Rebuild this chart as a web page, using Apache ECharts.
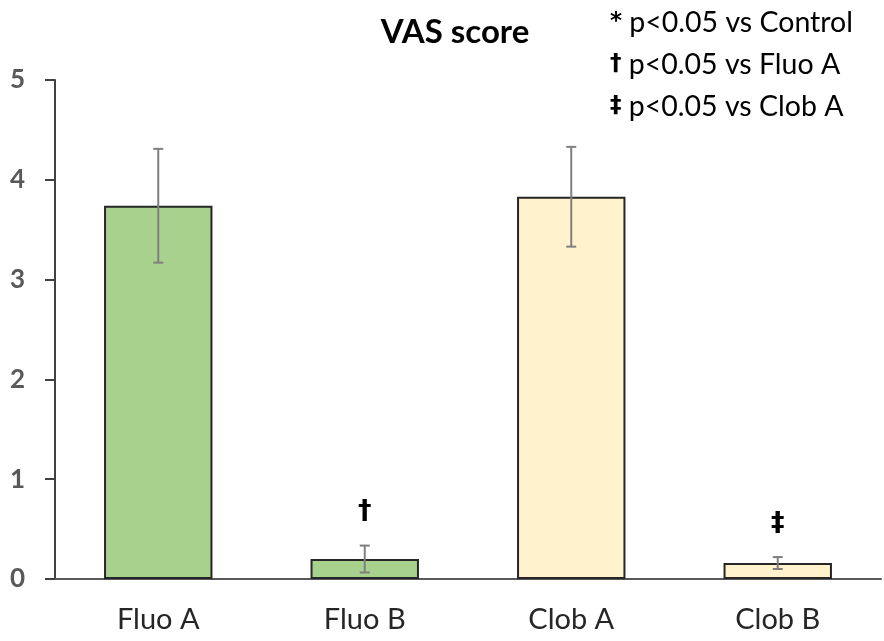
<!DOCTYPE html>
<html><head><meta charset="utf-8">
<script src="https://cdn.jsdelivr.net/npm/echarts@6/dist/echarts.min.js"></script>
<style>html,body{margin:0;padding:0;background:#fff}#c{width:884px;height:641px}</style>
</head><body><div id="c"></div>
<script>
const categories = ['Fluo A', 'Fluo B', 'Clob A', 'Clob B'];
const means = [3.74, 0.20, 3.83, 0.16];
const errors = [0.57, 0.135, 0.5, 0.06];
const barColors = ['#A9D18E', '#A9D18E', '#FFF2CC', '#FFF2CC'];
const marks = ['', '†', '', '‡'];
const yTicks = [0, 1, 2, 3, 4, 5];
const titleText = 'VAS score';
const legendSymbols = ['*', '†', '‡'];
const legendTexts = ['p<0.05 vs Control', 'p<0.05 vs Fluo A', 'p<0.05 vs Clob A'];

const FONT = 'Lato';
const SYMFONT = 'DejaVu Sans';
const chart = echarts.init(document.getElementById('c'), null, {renderer: 'canvas'});
const option = {
  animation: false,
  backgroundColor: '#fff',
  textStyle: {fontFamily: FONT},
  title: {
    text: titleText, left: 450, top: 11, textAlign: 'center',
    textStyle: {fontFamily: FONT, fontWeight: 'bold', fontSize: 33, color: '#000'}
  },
  graphic: legendTexts.map((t, i) => ({
    type: 'text', left: 610, top: 8 + i * 42,
    style: {
      text: '{s|' + legendSymbols[i] + '} ' + t,
      font: '28.5px ' + FONT, fill: '#000',
      rich: {s: {fontFamily: SYMFONT, fontWeight: 'bold', fontSize: 23, fill: '#000'}}
    }
  })),
  grid: {left: 55, right: 3, top: 80, bottom: 62, containLabel: false},
  xAxis: {
    type: 'category', data: categories,
    axisLine: {show: true, lineStyle: {color: '#595959', width: 2}},
    axisTick: {show: false},
    axisLabel: {color: '#262626', fontSize: 29, fontFamily: FONT, margin: 26}
  },
  yAxis: {
    type: 'value', min: yTicks[0], max: yTicks[yTicks.length - 1], interval: 1,
    axisLine: {show: true, lineStyle: {color: '#404040', width: 2}},
    axisTick: {show: true, length: 10, lineStyle: {color: '#404040', width: 2}},
    splitLine: {show: false},
    axisLabel: {color: '#595959', fontSize: 26, fontWeight: 'bold', fontFamily: FONT, margin: 30}
  },
  series: [
    {
      type: 'bar', barWidth: '52.5%',
      data: means.map((v, i) => ({value: v, itemStyle: {color: barColors[i]}})),
      itemStyle: {borderColor: '#262626', borderWidth: 2},
      z: 2
    },
    {
      type: 'custom', z: 3,
      data: means.map((v, i) => [i, v, errors[i]]),
      renderItem: function (params, api) {
        const i = api.value(0), m = api.value(1), e = api.value(2);
        const top = api.coord([i, m + e]);
        const bot = api.coord([i, m - e]);
        const hw = 5;
        const st = {stroke: '#7f7f7f', lineWidth: 2};
        const children = [
          {type: 'line', shape: {x1: top[0], y1: top[1], x2: bot[0], y2: bot[1]}, style: st},
          {type: 'line', shape: {x1: top[0] - hw, y1: top[1], x2: top[0] + hw, y2: top[1]}, style: st},
          {type: 'line', shape: {x1: bot[0] - hw, y1: bot[1], x2: bot[0] + hw, y2: bot[1]}, style: st}
        ];
        const mk = marks[params.dataIndex];
        if (mk) {
          children.push({type: 'text', x: top[0], y: top[1] - 20,
            style: {text: mk, font: 'bold 27px ' + SYMFONT, fill: '#000', align: 'center', verticalAlign: 'bottom'}});
        }
        return {type: 'group', children: children};
      }
    }
  ]
};
chart.setOption(option);
</script></body></html>
